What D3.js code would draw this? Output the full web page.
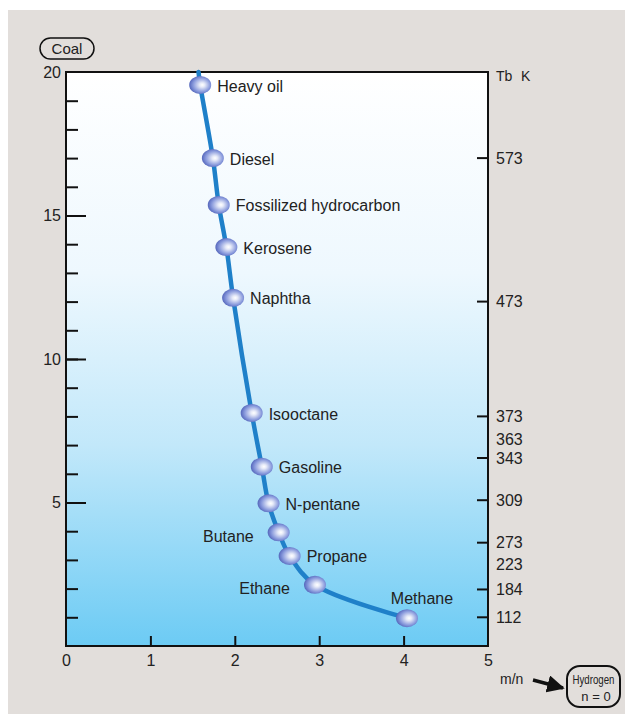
<!DOCTYPE html>
<html><head><meta charset="utf-8">
<script src="https://cdn.jsdelivr.net/npm/d3@7/dist/d3.min.js"></script>
<style>
body{margin:0;background:#fff;}
svg{display:block;font-family:"Liberation Sans",Arial,Helvetica,sans-serif;}
</style></head><body>
<svg id="c" width="625" height="714"></svg>
<script>
// ---- data ----
const fuels = ["Heavy oil","Diesel","Fossilized hydrocarbon","Kerosene","Naphtha","Isooctane","Gasoline","N-pentane","Butane","Propane","Ethane","Methane"];
const ratioMN = [1.59,1.74,1.81,1.90,1.98,2.20,2.32,2.40,2.52,2.65,2.95,4.04];
const carbonN = [19.55,17.0,15.37,13.9,12.13,8.12,6.25,4.97,3.96,3.14,2.13,0.97];
const labelSide = ["right","right","right","right","right","right","right","right","left","right","left","above"];
const curveTop = {mn:1.57, n:20};
const xTicks = [0,1,2,3,4,5];
const yMajor = [5,10,15,20];
const yMinor = d3.range(1,20);
const tbLabels = ["573","473","373","363","343","309","273","223","184","112"];
const tbN = [17.0,12.0,8.0,7.2,6.55,5.08,3.6,2.86,1.97,1.0];
const tbHasTick = [true,true,true,false,true,true,true,false,true,true];

// ---- layout ----
const svg = d3.select("#c");
const L=66,R=488,T=72,B=646;
const x = d3.scaleLinear([0,5],[L,R]);
const y = d3.scaleLinear([0,20],[B,T]);

svg.append("rect").attr("x",8).attr("y",10).attr("width",617).attr("height",704).attr("fill","#e2dedb");

const defs = svg.append("defs");
const bg = defs.append("linearGradient").attr("id","bg").attr("x1",0).attr("y1",0).attr("x2",0).attr("y2",1);
[[0,"#ffffff"],[0.35,"#eef8fe"],[0.65,"#c2e8fa"],[1,"#6ccbf4"]].forEach(([o,c])=>bg.append("stop").attr("offset",o).attr("stop-color",c));
const mg = defs.append("radialGradient").attr("id","mk").attr("cx","0.55").attr("cy","0.5").attr("r","0.6").attr("fx","0.6").attr("fy","0.5");
[[0,"#ffffff"],[0.2,"#e6eaf8"],[0.65,"#8899dc"],[1,"#4658b2"]].forEach(([o,c])=>mg.append("stop").attr("offset",o).attr("stop-color",c));
defs.append("marker").attr("id","arr").attr("viewBox","0 0 10 10").attr("refX",9).attr("refY",5)
  .attr("markerWidth",5).attr("markerHeight",5).attr("orient","auto")
  .append("path").attr("d","M0,0L10,5L0,10z").attr("fill","#111");

svg.append("rect").attr("x",L).attr("y",T).attr("width",R-L).attr("height",B-T).attr("fill","url(#bg)");

const tickFont = g=>g.selectAll("text").attr("font-size",16).attr("fill","#222").attr("font-family","'Liberation Sans',Arial,sans-serif");

// left axis minor ticks
svg.append("g").attr("transform",`translate(${L},0)`)
  .call(d3.axisLeft(y).tickValues(yMinor).tickSize(-12).tickFormat(""))
  .call(g=>{g.select(".domain").remove();g.selectAll("line").attr("stroke","#111").attr("stroke-width",2);});
// left axis major ticks + labels
svg.append("g").attr("transform",`translate(${L},0)`)
  .call(d3.axisLeft(y).tickValues(yMajor).tickSize(-20).tickPadding(5).tickFormat(d3.format("d")))
  .call(g=>{g.select(".domain").remove();g.selectAll("line").attr("stroke","#111").attr("stroke-width",2);
    g.selectAll(".tick").filter(d=>d===20).select("line").remove();})
  .call(tickFont);
// bottom axis
svg.append("g").attr("transform",`translate(0,${B})`)
  .call(d3.axisBottom(x).tickValues(xTicks).tickSize(-10).tickPadding(9).tickFormat(d3.format("d")))
  .call(g=>{g.select(".domain").remove();g.selectAll("line").attr("stroke","#111").attr("stroke-width",2);
    g.selectAll(".tick").filter(d=>d===0||d===5).select("line").remove();})
  .call(tickFont);
// right axis (Tb)
const tbData = tbLabels.map((l,i)=>({l,n:tbN[i],t:tbHasTick[i]}));
const rg = svg.append("g");
rg.selectAll("line").data(tbData.filter(d=>d.t)).join("line")
  .attr("x1",R-11).attr("x2",R).attr("y1",d=>y(d.n)).attr("y2",d=>y(d.n))
  .attr("stroke","#111").attr("stroke-width",2);
rg.selectAll("text").data(tbData).join("text")
  .attr("x",R+8).attr("y",d=>y(d.n)).attr("dy","0.35em")
  .attr("font-size",16).attr("fill","#222").text(d=>d.l);

// frame
svg.append("rect").attr("x",L).attr("y",T).attr("width",R-L).attr("height",B-T)
  .attr("fill","none").attr("stroke","#111").attr("stroke-width",2);

// curve
const pts = [curveTop].concat(ratioMN.map((m,i)=>({mn:m,n:carbonN[i]})));
svg.append("path").datum(pts)
  .attr("d",d3.line().x(d=>x(d.mn)).y(d=>y(d.n)).curve(d3.curveCatmullRom.alpha(0.5)))
  .attr("fill","none").attr("stroke","#1f80c9").attr("stroke-width",4.5).attr("stroke-linecap","round");

// markers
const pd = fuels.map((f,i)=>({f,mn:ratioMN[i],n:carbonN[i],side:labelSide[i]}));
svg.selectAll("ellipse.mk").data(pd).join("ellipse").attr("class","mk")
  .attr("cx",d=>x(d.mn)).attr("cy",d=>y(d.n)).attr("rx",11).attr("ry",9)
  .attr("fill","url(#mk)");

// labels
svg.selectAll("text.lb").data(pd).join("text").attr("class","lb")
  .attr("x",d=>d.side==="right"?x(d.mn)+17:d.side==="left"?x(d.mn)-25:x(d.mn)+15)
  .attr("y",d=>d.side==="above"?y(d.n)-20:d.side==="left"?y(d.n)+4:y(d.n)+1)
  .attr("dy","0.35em")
  .attr("text-anchor",d=>d.side==="right"?"start":d.side==="left"?"end":"middle")
  .attr("font-size",16).attr("fill","#222").text(d=>d.f);

// extra annotations
const coal = svg.append("g");
coal.append("rect").attr("x",40).attr("y",38).attr("width",54).attr("height",21).attr("rx",10.5)
  .attr("fill","none").attr("stroke","#111").attr("stroke-width",1.5);
coal.append("text").attr("x",67).attr("y",49).attr("dy","0.35em").attr("text-anchor","middle")
  .attr("font-size",15).attr("fill","#222").text("Coal");

svg.append("text").attr("x",496).attr("y",76).attr("dy","0.35em").attr("font-size",14).attr("fill","#222").text("Tb");
svg.append("text").attr("x",521).attr("y",76).attr("dy","0.35em").attr("font-size",14).attr("fill","#222").text("K");
svg.append("text").attr("x",500).attr("y",679).attr("dy","0.35em").attr("font-size",14).attr("fill","#222").text("m/n");
svg.append("line").attr("x1",533).attr("y1",680).attr("x2",563).attr("y2",688)
  .attr("stroke","#111").attr("stroke-width",3.5).attr("marker-end","url(#arr)");
const hb = svg.append("g");
hb.append("rect").attr("x",567).attr("y",666).attr("width",53).attr("height",41).attr("rx",13)
  .attr("fill","none").attr("stroke","#111").attr("stroke-width",2);
hb.append("text").attr("x",593.5).attr("y",680).attr("dy","0.35em").attr("text-anchor","middle")
  .attr("font-size",12).attr("textLength",42).attr("lengthAdjust","spacingAndGlyphs").attr("fill","#222").text("Hydrogen");
hb.append("text").attr("x",596).attr("y",696).attr("dy","0.35em").attr("text-anchor","middle")
  .attr("font-size",13).attr("fill","#222").text("n = 0");
</script></body></html>
